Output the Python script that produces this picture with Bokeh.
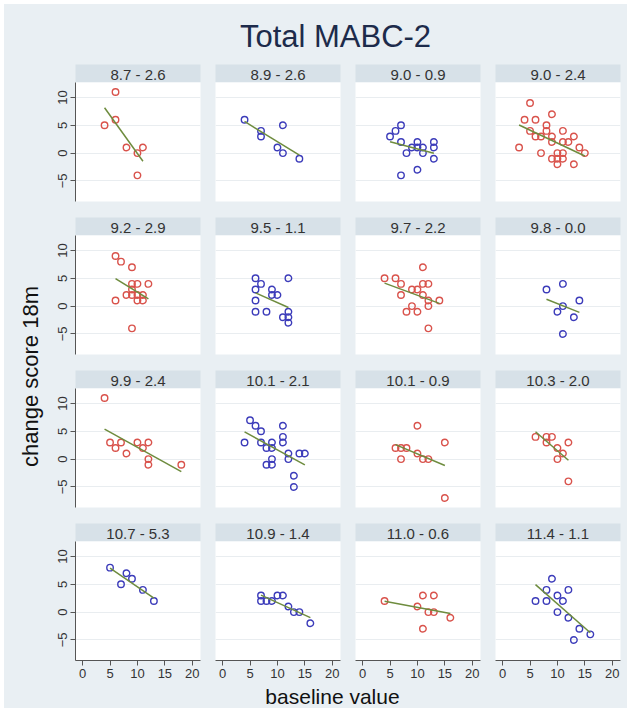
import numpy as np
from bokeh.plotting import figure
from bokeh.layouts import row, column
from bokeh.models import Range1d, FixedTicker
from bokeh.core.properties import value
from bokeh.embed import file_html
from bokeh.resources import INLINE

# ---------------- data ----------------
chart_title = "Total MABC-2"
x_title = "baseline value"
y_title = "change score 18m"
x_ticks = [0, 5, 10, 15, 20]
y_ticks = [-5, 0, 5, 10]

panel_labels = ["8.7 - 2.6", "8.9 - 2.6", "9.0 - 0.9", "9.0 - 2.4",
                "9.2 - 2.9", "9.5 - 1.1", "9.7 - 2.2", "9.8 - 0.0",
                "9.9 - 2.4", "10.1 - 2.1", "10.1 - 0.9", "10.3 - 2.0",
                "10.7 - 5.3", "10.9 - 1.4", "11.0 - 0.6", "11.4 - 1.1"]
panel_groups = ["red", "blue", "blue", "red",
                "red", "blue", "red", "blue",
                "red", "blue", "red", "red",
                "blue", "blue", "red", "blue"]

p01_x = [4, 6, 6, 8, 10, 10, 11]
p01_y = [5, 11, 6, 1, 0, -4, 1]
p02_x = [4, 7, 7, 10, 11, 11, 14]
p02_y = [6, 4, 3, 1, 5, 0, -1]
p03_x = [5, 6, 7, 7, 7, 8, 9, 10, 10, 10, 11, 11, 13, 13, 13]
p03_y = [3, 4, 5, 2, -4, 0, 1, 2, 1, -3, 1, 0, 2, 1, -1]
p04_x = [3, 4, 5, 5, 6, 6, 7, 7, 8, 8, 9, 9, 9, 9, 10, 10, 10, 11, 11, 11, 11, 12, 13, 13, 14, 15]
p04_y = [1, 6, 9, 4, 6, 3, 3, 0, 5, 4, 7, 3, 2, -1, 0, -1, -2, 4, 2, 0, -1, 2, 3, -2, 1, 0]
p05_x = [6, 7, 9, 9, 10, 12, 9, 8, 9, 10, 11, 6, 10, 11, 9]
p05_y = [9, 8, 7, 4, 4, 4, 3, 2, 2, 2, 2, 1, 1, 1, -4]
p06_x = [6, 7, 6, 6, 6, 8, 9, 9, 10, 12, 12, 11, 12, 12]
p06_y = [5, 4, 3, 1, -1, -1, 3, 2, 2, 5, -1, -2, -2, -3]
p07_x = [4, 6, 7, 7, 9, 10, 11, 11, 12, 11, 12, 14, 9, 8, 10, 12, 12]
p07_y = [5, 5, 4, 2, 3, 3, 7, 4, 4, 2, 1, 1, 0, -1, -1, 0, -4]
p08_x = [8, 11, 14, 11, 10, 13, 11]
p08_y = [3, 4, 1, 0, -1, -2, -5]
p09_x = [4, 5, 6, 7, 8, 10, 11, 12, 12, 12, 18]
p09_y = [11, 3, 2, 3, 1, 3, 2, 3, 0, -1, -1]
p10_x = [5, 6, 7, 4, 7, 8, 9, 9, 8, 9, 9, 11, 11, 11, 12, 12, 14, 15, 13, 13]
p10_y = [7, 6, 5, 3, 3, 2, 2, 3, -1, -1, 0, 6, 4, 3, 1, 0, 1, 1, -3, -5]
p11_x = [10, 6, 7, 8, 7, 10, 11, 12, 15, 15]
p11_y = [6, 2, 2, 2, 0, 1, 0, 0, 3, -7]
p12_x = [6, 8, 9, 8, 10, 12, 11, 10, 12]
p12_y = [4, 4, 4, 3, 2, 3, 1, 0, -4]
p13_x = [5, 7, 8, 9, 11, 13]
p13_y = [8, 5, 7, 6, 4, 2]
p14_x = [7, 7, 8, 9, 10, 11, 12, 13, 14, 16]
p14_y = [3, 2, 2, 2, 3, 3, 1, 0, 0, -2]
p15_x = [4, 10, 11, 13, 12, 13, 11, 16]
p15_y = [2, 1, 3, 3, 0, 0, -3, -1]
p16_x = [6, 8, 8, 9, 10, 11, 12, 10, 12, 13, 14, 16]
p16_y = [2, 2, 4, 6, 3, 2, 4, 0, -1, -5, -3, -4]

panel_x = [p01_x, p02_x, p03_x, p04_x, p05_x, p06_x, p07_x, p08_x,
           p09_x, p10_x, p11_x, p12_x, p13_x, p14_x, p15_x, p16_x]
panel_y = [p01_y, p02_y, p03_y, p04_y, p05_y, p06_y, p07_y, p08_y,
           p09_y, p10_y, p11_y, p12_y, p13_y, p14_y, p15_y, p16_y]

# ---------------- style ----------------
FONT = "Liberation Sans"
BG = "#e9eff3"
STRIP = "#d7e1e8"
GRIDC = "#e9edf0"
TXT = "#333333"
TITLEC = "#1d2b4b"
AXC = "#555555"
COLORS = {"red": "#d9534c", "blue": "#3c3cba"}
FIT = "#6e8c3e"

FW, FH, SH = 125, 119, 18
GAP, AXB = 16, 24
XR = (-1.3, 21.5)
YR = (-8.7, 12.7)
YT_W = 42
LEFTB = [29, 0, 0, 0]
RIGHTB = [15, 15, 15, 7]
TITLE_H, XT_H = 60, 24


def strip_fig(label, c):
    s = figure(frame_width=FW, frame_height=SH, x_range=Range1d(0, 1), y_range=Range1d(0, 1),
               x_axis_location=None, y_axis_location=None, toolbar_location=None,
               output_backend="svg", min_border_left=LEFTB[c], min_border_right=RIGHTB[c],
               min_border_top=0, min_border_bottom=0, background_fill_color=STRIP,
               border_fill_color=BG, outline_line_color=None)
    s.grid.visible = False
    s.text(x=[0.5], y=[0.45], text=[label], text_font=value(FONT), text_font_size="15px",
           text_align="center", text_baseline="middle", text_color=TXT)
    return s


def panel_fig(i, r, c):
    p = figure(frame_width=FW, frame_height=FH, x_range=Range1d(*XR), y_range=Range1d(*YR),
               x_axis_location="below" if r == 3 else None,
               y_axis_location="left" if c == 0 else None,
               toolbar_location=None, output_backend="svg",
               min_border_left=LEFTB[c], min_border_right=RIGHTB[c], min_border_top=0,
               min_border_bottom=AXB if r == 3 else GAP,
               background_fill_color="white", border_fill_color=BG, outline_line_color=None)
    p.xgrid.visible = False
    p.ygrid.ticker = FixedTicker(ticks=y_ticks)
    p.ygrid.grid_line_color = GRIDC
    p.ygrid.grid_line_width = 1
    for ax in p.xaxis:
        ax.ticker = FixedTicker(ticks=x_ticks)
    for ax in p.yaxis:
        ax.ticker = FixedTicker(ticks=y_ticks)
        ax.major_label_orientation = "vertical"
    for ax in list(p.xaxis) + list(p.yaxis):
        ax.axis_line_color = AXC
        ax.major_tick_line_color = AXC
        ax.minor_tick_line_color = None
        ax.major_tick_in = 0
        ax.major_tick_out = 5
        ax.major_label_standoff = 3
        ax.major_label_text_font = FONT
        ax.major_label_text_font_size = "13px"
        ax.major_label_text_color = TXT
    xs = np.array(panel_x[i], dtype=float)
    ys = np.array(panel_y[i], dtype=float)
    col = COLORS[panel_groups[i]]
    p.scatter(xs, ys, marker="circle", size=6.5, fill_color=None, line_color=col, line_width=1.4)
    b, a = np.polyfit(xs, ys, 1)
    fx = np.array([xs.min(), xs.max()])
    p.line(fx, a + b * fx, line_color=FIT, line_width=1.5)
    return p


rows = []
for r in range(4):
    rows.append(row(*[strip_fig(panel_labels[r * 4 + c], c) for c in range(4)]))
    rows.append(row(*[panel_fig(r * 4 + c, r, c) for c in range(4)]))
grid = column(*rows)

GRID_H = 4 * SH + 3 * (FH + GAP) + (FH + AXB)

# title
tf = figure(frame_width=623, frame_height=TITLE_H, x_range=Range1d(0, 623), y_range=Range1d(0, TITLE_H),
            x_axis_location=None, y_axis_location=None, toolbar_location=None,
            output_backend="svg", min_border=0, background_fill_color=BG,
            border_fill_color=BG, outline_line_color=None)
tf.grid.visible = False
tf.text(x=[331], y=[TITLE_H - 32], text=[chart_title], text_font=value(FONT), text_font_size="31px",
        text_align="center", text_baseline="middle", text_color=TITLEC)

# y title
yf = figure(frame_width=YT_W, frame_height=GRID_H, x_range=Range1d(0, YT_W), y_range=Range1d(0, GRID_H),
            x_axis_location=None, y_axis_location=None, toolbar_location=None,
            output_backend="svg", min_border=0, background_fill_color=BG,
            border_fill_color=BG, outline_line_color=None)
yf.grid.visible = False
yf.text(x=[26], y=[GRID_H - 312], text=[y_title], text_font=value(FONT), text_font_size="22px",
        text_align="center", text_baseline="middle", text_color="#111111", angle=np.pi / 2)

# x title
xf = figure(frame_width=623, frame_height=XT_H, x_range=Range1d(0, 623), y_range=Range1d(0, XT_H),
            x_axis_location=None, y_axis_location=None, toolbar_location=None,
            output_backend="svg", min_border=0, background_fill_color=BG,
            border_fill_color=BG, outline_line_color=None)
xf.grid.visible = False
xf.text(x=[328], y=[XT_H / 2], text=[x_title], text_font=value(FONT), text_font_size="21px",
        text_align="center", text_baseline="middle", text_color="#111111")

layout = column(tf, row(yf, grid), xf, margin=(4, 0, 0, 4),
                styles={"background-color": BG})

open("out.html", "w").write(file_html(layout, INLINE))
